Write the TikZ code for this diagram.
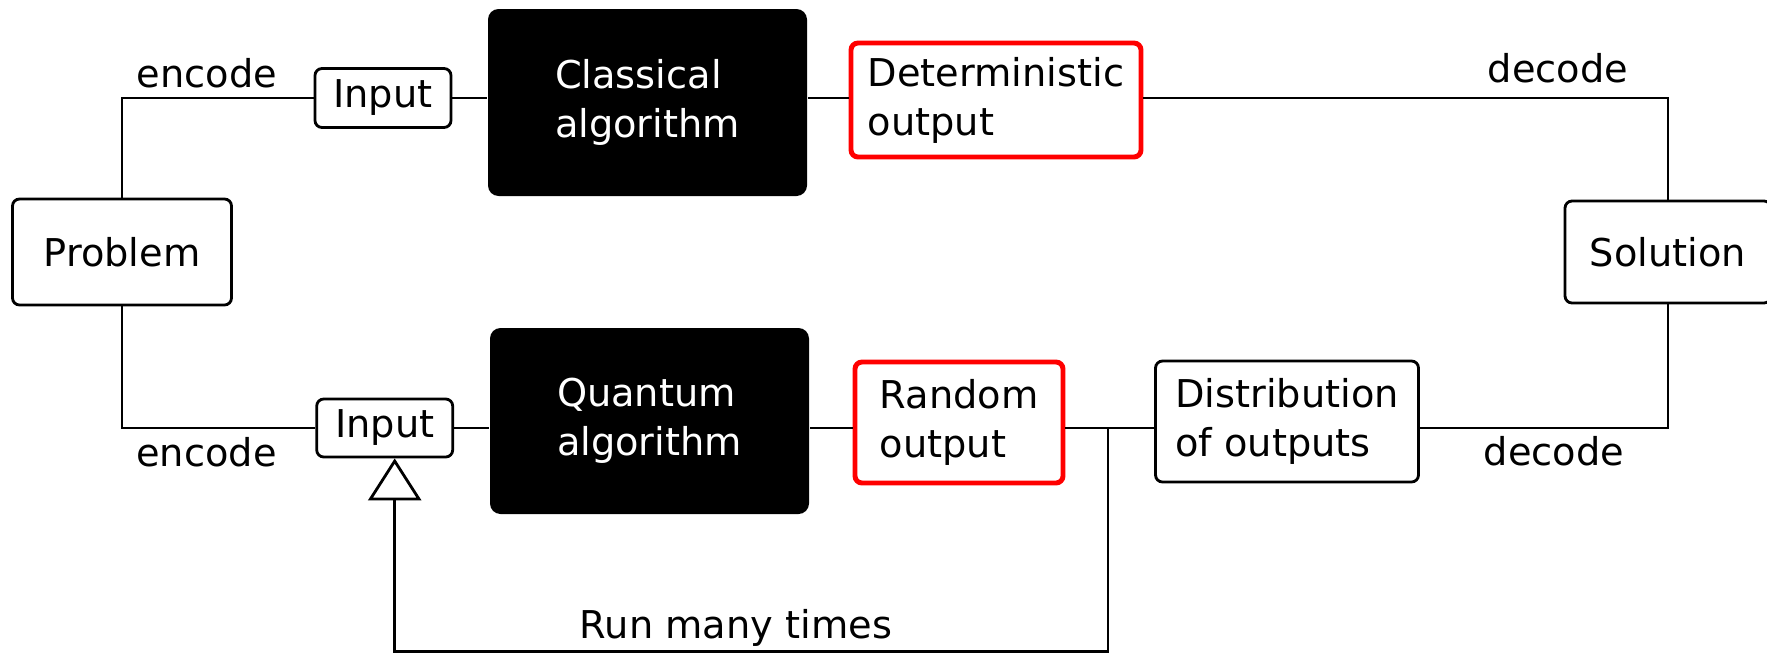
\documentclass[tikz,border=0pt]{standalone}
\usepackage{fontspec}
\setmainfont{DejaVu Sans}
\usetikzlibrary{arrows.meta}

\begin{document}
\begin{tikzpicture}[
  font=\fontsize{10.9pt}{13.9pt}\selectfont,
  line width=0.8pt,
  box/.style={draw, rounded corners=2pt, inner sep=0pt, align=left},
  redbox/.style={box, draw=red, line width=1.4pt},
  algbox/.style={fill=black, text=white, rounded corners=3pt, inner sep=0pt,
    align=left, minimum width=3.19cm, minimum height=1.87cm},
  lbl/.style={anchor=base, inner sep=0pt}
]
  \useasboundingbox (0,0) rectangle (17.67,6.54);
  % Boxes, top row
  \node[box, minimum width=2.19cm, minimum height=1.06cm] (prob) at (1.22,4.02) {Problem};
  \node[box, minimum width=1.36cm, minimum height=0.59cm] (inC) at (3.83,5.56) {Input};
  \node[algbox] (cla) at (6.475,5.515) {Classical\\algorithm};
  \node[redbox, minimum width=2.90cm, minimum height=1.14cm] (det) at (9.96,5.54) {Deterministic\\output};
  \node[box, minimum width=2.06cm, minimum height=1.02cm] (sol) at (16.68,4.02) {Solution};
  % Boxes, bottom row
  \node[box, minimum width=1.36cm, minimum height=0.58cm] (inQ) at (3.847,2.26) {Input};
  \node[algbox, minimum height=1.86cm] (qua) at (6.495,2.33) {Quantum\\algorithm};
  \node[redbox, minimum width=2.08cm, minimum height=1.21cm] (rnd) at (9.59,2.315) {Random\\output};
  \node[box, minimum width=2.63cm, minimum height=1.21cm] (dist) at (12.87,2.325) {Distribution\\of outputs};

  % Labels
  \node[lbl] (encC) at (2.07,5.67) {encode};
  \node[lbl] (encQ) at (2.065,1.873) {encode};
  \node[lbl] (decC) at (15.58,5.72) {decode};
  \node[lbl] (decQ) at (15.54,1.89) {decode};
  \node[lbl] (run) at (7.36,0.16) {Run many times};

  % Classical path
  \draw (prob.north) |- (inC.west);
  \draw (inC.east) -- (inC.east -| cla.west);
  \draw (cla.east |- inC.east) -- (inC.east -| det.west);
  \draw (det.east |- inC.east) -| (sol.north);

  % Quantum path
  \draw (prob.south) |- (inQ.west);
  \draw (inQ.east) -- (inQ.east -| qua.west);
  \draw (qua.east |- inQ.east) -- (inQ.east -| rnd.west);
  \draw (rnd.east |- inQ.east) -- (inQ.east -| dist.west);
  \draw (dist.east |- inQ.east) -| (sol.south);

  % Feedback loop
  \coordinate (br) at (11.08,2.26);
  \coordinate (fb) at (3.947,0.025);
  \draw[-{Triangle[open, width=0.53cm, length=0.42cm]}] (br) |- (fb) -- (fb |- inQ.south);
\end{tikzpicture}
\end{document}
